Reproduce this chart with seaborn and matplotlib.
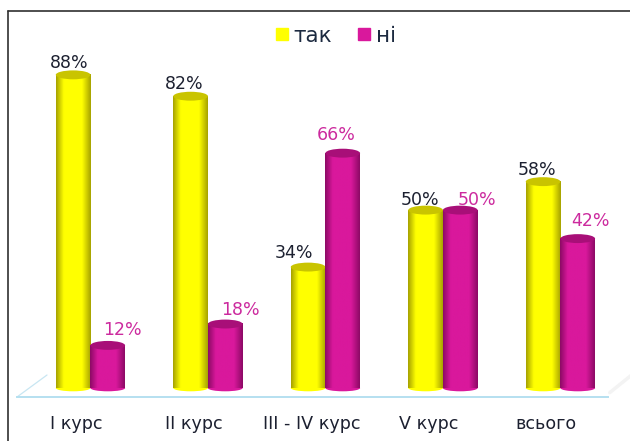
import numpy as np
import pandas as pd
import matplotlib
matplotlib.use("Agg")
import matplotlib.pyplot as plt
from matplotlib.colors import LinearSegmentedColormap
from matplotlib.lines import Line2D
from matplotlib.patches import Ellipse
from matplotlib.transforms import ScaledTranslation
import seaborn as sns

categories = ["I курс", "II курс", "III - IV курс", "V курс", "всього"]
tak = [88, 82, 34, 50, 58]
ni = [12, 18, 66, 50, 42]

sns.set_theme(style="white")
plt.rcParams["font.family"] = ["DejaVu Sans"]

df = pd.DataFrame({"курс": categories * 2,
                   "відповідь": ["так"] * 5 + ["ні"] * 5,
                   "value": tak + ni})

palette = {"так": "#ffff00", "ні": "#d9189c"}
dark = {"так": "#a8a400", "ні": "#8e0a66"}
top_col = {"так": "#c9c400", "ні": "#a80f78"}
text_col = {"так": "#1c2030", "ні": "#cc2a9e"}

# label nudges in pixels, the labels in the picture sit off-centre
label_dx = [-4, -6, -14, -6, -6, 15, 15, -7, 17, 13]
label_dy = [7, 7, 9, 5, 7, 10, 9, 13, 5, 13]

fig = plt.figure(figsize=(6.3, 4.41), dpi=100)
ax = fig.add_axes([17 / 630, 44 / 441, 591 / 630, 367 / 441])

sns.barplot(data=df, x="курс", y="value", hue="відповідь", palette=palette,
            hue_order=["так", "ні"], order=categories, width=0.59, gap=0,
            saturation=1, legend=False, ax=ax)

ax.set_xlabel("")
ax.set_ylabel("")
ax.set_yticks([])
ax.set_xticks(range(5))
ax.set_xticklabels(categories, fontsize=12.6, color="#1c2030")
ax.tick_params(axis="x", length=0, pad=13)
shift = ScaledTranslation(-14 / 100, 0, fig.dpi_scale_trans)
for lab in ax.get_xticklabels():
    lab.set_transform(lab.get_transform() + shift)
for side in ["top", "left", "right"]:
    ax.spines[side].set_visible(False)
ax.spines["bottom"].set_color("#b5e0f0")
ax.spines["bottom"].set_linewidth(1.4)

# left edge of the floor, light slanted line
ax.plot([0, 30 / 591], [0, 22 / 367], transform=ax.transAxes,
        color="#c8e6f2", lw=0.9, clip_on=False)
# faint shadow on the right of the floor
ax.plot([1.003, 1.04], [0.012, 0.06], transform=ax.transAxes,
        color="#f3f3f3", lw=2.5, clip_on=False)

# turn flat bars into cylinders
names = ["так"] * 5 + ["ні"] * 5
values = tak + ni
for i, (patch, name, val) in enumerate(zip(ax.patches, names, values)):
    x0, w = patch.get_x(), patch.get_width()
    cmap = LinearSegmentedColormap.from_list(
        "cyl", [(0, dark[name]), (0.22, palette[name]), (0.75, palette[name]), (1, dark[name])])
    grad = np.linspace(0, 1, 60).reshape(1, -1)
    patch.set_facecolor("none")
    z = 2 if name == "так" else 3
    ax.imshow(grad, extent=[x0, x0 + w, 0, val], cmap=cmap, aspect="auto", zorder=z)
    ax.add_patch(Ellipse((x0 + w / 2, 0), w, 1.8, facecolor=palette[name],
                         edgecolor="none", zorder=z - 0.1))
    ax.add_patch(Ellipse((x0 + w / 2, val), w, 2.5,
                         facecolor=top_col[name], edgecolor="none", zorder=z + 0.1))
    ax.annotate(f"{val}%", (x0 + w / 2, val), xytext=(label_dx[i] * 0.72, label_dy[i] * 0.72),
                textcoords="offset points", ha="center", va="baseline",
                fontsize=12.5, color=text_col[name], zorder=5)
# imshow resets the limits
ax.set_xlim(-0.625, 4.405)
ax.set_ylim(-2.5, 100.6)
ax.set_aspect("auto")

# legend
handles = [Line2D([], [], marker="s", ls="", ms=9, color=palette[k], label=k)
           for k in ["так", "ні"]]
fig.legend(handles=handles, loc="center", bbox_to_anchor=(334 / 630, 1 - 36 / 441),
           ncol=2, frameon=False, fontsize=15.5, handlelength=0.9, handletextpad=0.1,
           columnspacing=1.05, labelcolor="#1c2a40")

# frame of the slide: top and left only
fig.add_artist(Line2D([8 / 630, 8 / 630], [0, 1 - 11 / 441], color="#303030", lw=1.2))
fig.add_artist(Line2D([8 / 630, 1], [1 - 11 / 441, 1 - 11 / 441], color="#303030", lw=1.2))

fig.savefig("out.png", dpi=100, facecolor="white")
